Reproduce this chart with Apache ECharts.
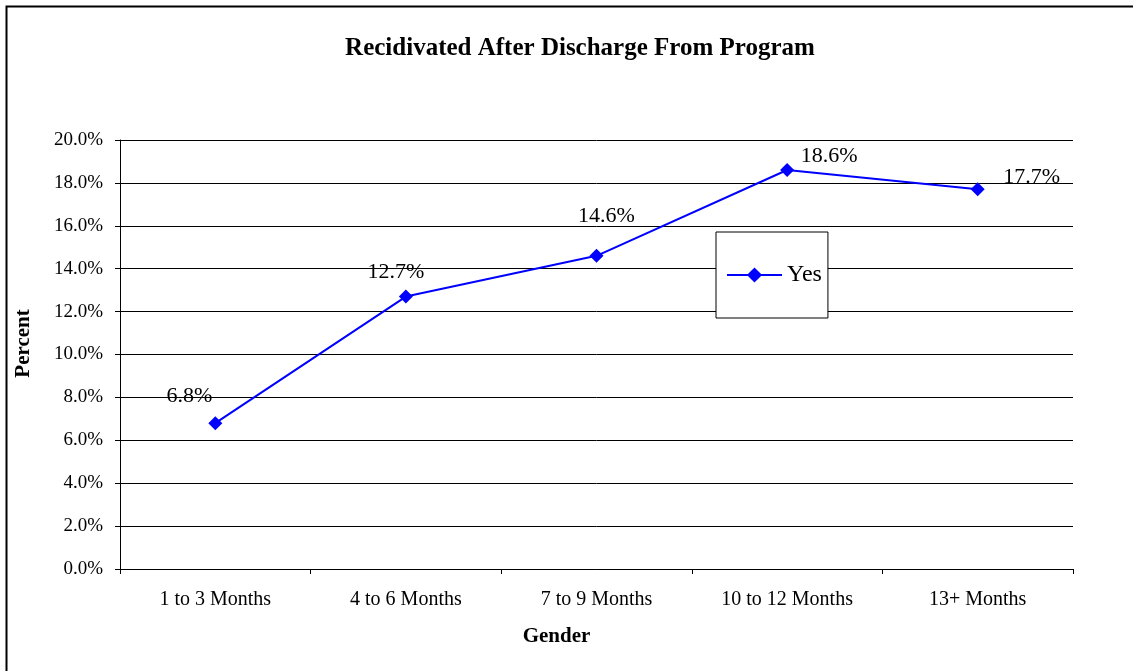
<!DOCTYPE html>
<html>
<head>
<meta charset="utf-8">
<script src="https://cdn.jsdelivr.net/npm/echarts@6/dist/echarts.min.js"></script>
<style>
  html, body { margin: 0; padding: 0; background: #fff; }
  #chart { width: 1133px; height: 671px; }
</style>
</head>
<body>
<div id="chart"></div>
<script>
// data
var categories = ['1 to 3 Months', '4 to 6 Months', '7 to 9 Months', '10 to 12 Months', '13+ Months'];
var yesValues = [6.8, 12.7, 14.6, 18.6, 17.7];

// where each data label sits relative to its point (px)
var labelOffsets = [[-26, -27], [-10, -24], [10, -40], [42, -14], [54, -12]];

var serif = '"Liberation Serif", "Times New Roman", serif';

var chart = echarts.init(document.getElementById('chart'));

var seriesData = yesValues.map(function (v, i) {
  return {
    value: v,
    label: { offset: labelOffsets[i] }
  };
});

chart.setOption({
  animation: false,
  backgroundColor: '#fff',
  textStyle: { fontFamily: serif, color: '#000' },
  title: {
    text: 'Recidivated After Discharge From Program',
    left: 575,
    textAlign: 'center',
    top: 31,
    textStyle: { fontFamily: serif, fontSize: 25, fontWeight: 'bold', color: '#000' }
  },
  graphic: [{
    type: 'rect',
    shape: { x: 6.5, y: 6.5, width: 1140, height: 680 },
    style: { fill: 'none', stroke: '#000', lineWidth: 2 },
    silent: true
  }],
  legend: {
    left: 716,
    top: 232,
    orient: 'vertical',
    data: ['Yes'],
    itemWidth: 55,
    itemHeight: 19,
    itemGap: 0,
    padding: [31, 6, 31, 10],
    borderColor: '#000',
    borderWidth: 1,
    backgroundColor: '#fff',
    textStyle: { fontFamily: serif, fontSize: 24, color: '#000' }
  },
  grid: { left: 120, right: 60, top: 140, bottom: 102, containLabel: false },
  xAxis: {
    type: 'category',
    data: categories,
    boundaryGap: true,
    name: 'Gender',
    nameLocation: 'middle',
    nameGap: 57,
    nameTextStyle: { fontFamily: serif, fontSize: 21, fontWeight: 'bold', color: '#000', padding: [0, 80, 0, 0] },
    axisLine: { lineStyle: { color: '#000', width: 1 } },
    axisTick: { show: true, length: 5, inside: false, lineStyle: { color: '#000' } },
    axisLabel: { fontFamily: serif, fontSize: 20, color: '#000', margin: 21 },
    splitLine: { show: false }
  },
  yAxis: {
    type: 'value',
    min: 0,
    max: 20,
    interval: 2,
    name: 'Percent',
    nameLocation: 'middle',
    nameGap: 86,
    nameRotate: 90,
    nameTextStyle: { fontFamily: serif, fontSize: 21, fontWeight: 'bold', color: '#000', padding: [0, 0, 0, 22] },
    axisLine: { show: true, lineStyle: { color: '#000', width: 1 } },
    axisTick: { show: true, length: 5, inside: false, lineStyle: { color: '#000' } },
    axisLabel: {
      fontFamily: serif, fontSize: 19, color: '#000', margin: 17,
      formatter: function (v) { return v.toFixed(1) + '%'; }
    },
    splitLine: { show: true, lineStyle: { color: '#000', width: 1 } }
  },
  series: [{
    name: 'Yes',
    type: 'line',
    data: seriesData,
    symbol: 'diamond',
    symbolSize: 14,
    lineStyle: { color: '#0000FF', width: 2 },
    itemStyle: { color: '#0000FF' },
    label: {
      show: true,
      position: 'inside',
      fontFamily: serif,
      fontSize: 22,
      color: '#000',
      formatter: function (p) { return p.value.toFixed(1) + '%'; }
    }
  }]
});
</script>
</body>
</html>
